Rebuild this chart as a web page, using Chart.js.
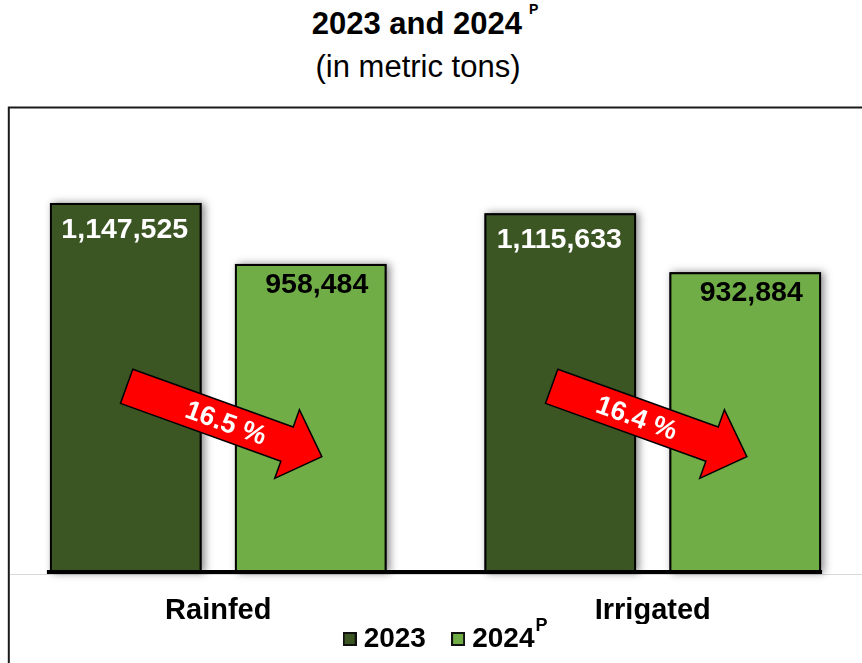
<!DOCTYPE html>
<html>
<head>
<meta charset="utf-8">
<script src="https://cdn.jsdelivr.net/npm/chart.js@4.4.1/dist/chart.umd.min.js"></script>
<style>
  html, body { margin: 0; padding: 0; background: #fff; overflow: hidden; }
  body { width: 862px; height: 663px; position: relative; font-family: "Liberation Sans", Arial, sans-serif; }
  #graphique { position: absolute; left: 1px; top: 0; }
  .titre { position: absolute; left: 0; text-align: center; color: #000; font-size: 31px; line-height: 40px; white-space: nowrap; }
  #titre1 { top: 4px; width: 850px; font-weight: bold; }
  #titre1 span { font-size: 14px; position: relative; top: -20px; margin-left: 7px; }
  #titre2 { top: 47px; width: 836px; }
</style>
</head>
<body>
<div class="titre" id="titre1">2023 and 2024<span>P</span></div>
<div class="titre" id="titre2">(in metric tons)</div>
<canvas id="graphique" width="882" height="663"></canvas>
<script>
// ── DONNÉES ───────────────────────────────────────
const CATEGORIES   = ['Rainfed', 'Irrigated'];
const ANNEES       = ['2023', '2024'];
const VALEURS_2023 = [1147525, 1115633];
const VALEURS_2024 = [958484, 932884];
const BAISSES      = ['16.5 %', '16.4 %'];

// ── COULEURS / STYLE ──────────────────────────────
const COULEURS = {
  fonce: '#3b5623',
  clair: '#70ad47',
  rouge: '#ff0000',
  cadre: '#1a1a1a',
  gris:  '#d9d9d9'
};
const POLICE = '"Liberation Sans", Arial, sans-serif';

// décalages des étiquettes et des flèches (pixels)
const ETIQ_DX = [-1, 6];
const ETIQ_DY = [27, 21];
const FLECHE_DX = [6, -3.5];
const FLECHE_TEXTE_DX = [2, -13];
const FLECHE_NIVEAU = 470000;
const FLECHE_ANGLE = 19.8 * Math.PI / 180;

// petit carré de légende avec bord noir
function carre(couleur) {
  const c = document.createElement('canvas');
  c.width = 14; c.height = 14;
  const g = c.getContext('2d');
  g.fillStyle = '#111';
  g.fillRect(0, 0, 14, 14);
  g.fillStyle = couleur;
  g.fillRect(2, 2, 10, 10);
  return c;
}

// ── PLUGIN : cadre + ligne grise ──────────────────
const pluginCadre = {
  id: 'cadre',
  beforeDraw(chart) {
    const ctx = chart.ctx;
    ctx.save();
    ctx.strokeStyle = COULEURS.cadre;
    ctx.lineWidth = 2;
    ctx.strokeRect(7.8, 107.5, 2000, 2000);
    ctx.strokeStyle = COULEURS.gris;
    ctx.lineWidth = 1;
    ctx.beginPath();
    ctx.moveTo(9, chart.chartArea.bottom + 1.5);
    ctx.lineTo(chart.width, chart.chartArea.bottom + 1.5);
    ctx.stroke();
    ctx.restore();
  }
};

// ── PLUGIN : ombre portée des barres ──────────────
const pluginOmbre = {
  id: 'ombre',
  beforeDatasetsDraw(chart) {
    const ctx = chart.ctx;
    ctx.save();
    ctx.shadowColor = 'rgba(0,0,0,0.45)';
    ctx.shadowBlur = 8;
    ctx.shadowOffsetX = 3;
    ctx.shadowOffsetY = 0;
    ctx.fillStyle = '#000';
    chart.data.datasets.forEach(function(ds, i) {
      chart.getDatasetMeta(i).data.forEach(function(bar) {
        ctx.fillRect(bar.x - bar.width / 2, bar.y, bar.width, bar.base - bar.y);
      });
    });
    ctx.restore();
  }
};

// ── PLUGIN : étiquettes, ligne noire, flèches ─────
function dessinerFleche(ctx, cx, cy, texte, texteDx) {
  const L = 103.75, tete = 37, demi = 18.2, demiTete = 36.5;
  ctx.save();
  ctx.translate(cx, cy);
  ctx.rotate(FLECHE_ANGLE);
  ctx.beginPath();
  ctx.moveTo(-L, -demi);
  ctx.lineTo(L - tete, -demi);
  ctx.lineTo(L - tete, -demiTete);
  ctx.lineTo(L, 0);
  ctx.lineTo(L - tete, demiTete);
  ctx.lineTo(L - tete, demi);
  ctx.lineTo(-L, demi);
  ctx.closePath();
  ctx.fillStyle = COULEURS.rouge;
  ctx.fill();
  ctx.lineWidth = 1.5;
  ctx.strokeStyle = '#000';
  ctx.stroke();
  ctx.fillStyle = '#fff';
  ctx.font = 'bold 27px ' + POLICE;
  ctx.textAlign = 'center';
  ctx.textBaseline = 'middle';
  ctx.fillText(texte, texteDx, 2);
  ctx.restore();
}

const pluginDecor = {
  id: 'decor',
  afterDatasetsDraw(chart) {
    const ctx = chart.ctx;
    const area = chart.chartArea;
    const m0 = chart.getDatasetMeta(0).data;
    const m1 = chart.getDatasetMeta(1).data;

    // ligne noire épaisse sous les barres
    const gauche = m0[0].x - m0[0].width / 2 - 3;
    const droite = m1[m1.length - 1].x + m1[m1.length - 1].width / 2 + 1;
    ctx.save();
    ctx.fillStyle = '#000';
    ctx.fillRect(gauche, area.bottom - 3, droite - gauche, 4);

    // valeurs dans les barres
    ctx.font = 'bold 28.5px ' + POLICE;
    ctx.textAlign = 'center';
    ctx.textBaseline = 'middle';
    chart.data.datasets.forEach(function(ds, i) {
      ctx.fillStyle = i === 0 ? '#fff' : '#000';
      chart.getDatasetMeta(i).data.forEach(function(bar, j) {
        ctx.fillText(ds.data[j].toLocaleString('en-US'), bar.x + ETIQ_DX[i], bar.y + ETIQ_DY[i]);
      });
    });
    ctx.restore();

    // flèches de baisse
    const x = chart.scales.x, y = chart.scales.y;
    BAISSES.forEach(function(txt, j) {
      dessinerFleche(ctx, x.getPixelForValue(j) + FLECHE_DX[j], y.getPixelForValue(FLECHE_NIVEAU), txt, FLECHE_TEXTE_DX[j]);
    });
  },
  afterDraw(chart) {
    // exposant "P" après 2024 dans la légende
    const hb = chart.legend.legendHitBoxes[1];
    if (!hb) return;
    const ctx = chart.ctx;
    ctx.save();
    ctx.fillStyle = '#000';
    ctx.font = 'bold 18px ' + POLICE;
    ctx.textAlign = 'left';
    ctx.textBaseline = 'alphabetic';
    ctx.fillText('P', hb.left + hb.width + 1, hb.top + hb.height / 2 - 8.5);
    ctx.restore();
  }
};

// ── GRAPHIQUE ─────────────────────────────────────
new Chart(document.getElementById('graphique'), {
  type: 'bar',
  data: {
    labels: CATEGORIES,
    datasets: [
      { label: ANNEES[0], data: VALEURS_2023, backgroundColor: COULEURS.fonce, borderColor: '#000', borderWidth: 2 },
      { label: ANNEES[1], data: VALEURS_2024, backgroundColor: COULEURS.clair, borderColor: '#000', borderWidth: 2 }
    ]
  },
  options: {
    responsive: false,
    animation: false,
    categoryPercentage: 0.8515,
    barPercentage: 0.82,
    layout: { padding: { top: 108, left: 0, right: 0, bottom: 0 } },
    plugins: {
      title: { display: false },
      tooltip: { enabled: false },
      legend: {
        position: 'bottom',
        labels: {
          usePointStyle: true,
          boxWidth: 0.1,
          boxHeight: 14,
          padding: 1,
          color: '#000',
          font: { family: POLICE, size: 28, weight: 'bold' },
          generateLabels: function(chart) {
            return chart.data.datasets.map(function(ds, i) {
              return {
                text: ds.label + (i === 0 ? '    ' : ''),
                pointStyle: carre(ds.backgroundColor),
                fillStyle: ds.backgroundColor,
                strokeStyle: '#000',
                lineWidth: 0,
                hidden: false,
                datasetIndex: i,
                fontColor: '#000'
              };
            });
          }
        }
      }
    },
    scales: {
      x: {
        grid: { display: false, drawTicks: false },
        border: { display: false },
        ticks: { color: '#000', padding: 23.5, font: { family: POLICE, size: 29, weight: 'bold', lineHeight: 1 } },
        afterFit: function(s) { s.height = 51; }
      },
      y: { display: false, min: 0, max: 1442000 },
      y2: {
        position: 'right',
        display: true,
        grid: { display: false, drawTicks: false },
        border: { display: false },
        ticks: { display: false },
        afterFit: function(s) { s.width = 13; }
      }
    }
  },
  plugins: [pluginCadre, pluginOmbre, pluginDecor]
});
</script>
</body>
</html>
